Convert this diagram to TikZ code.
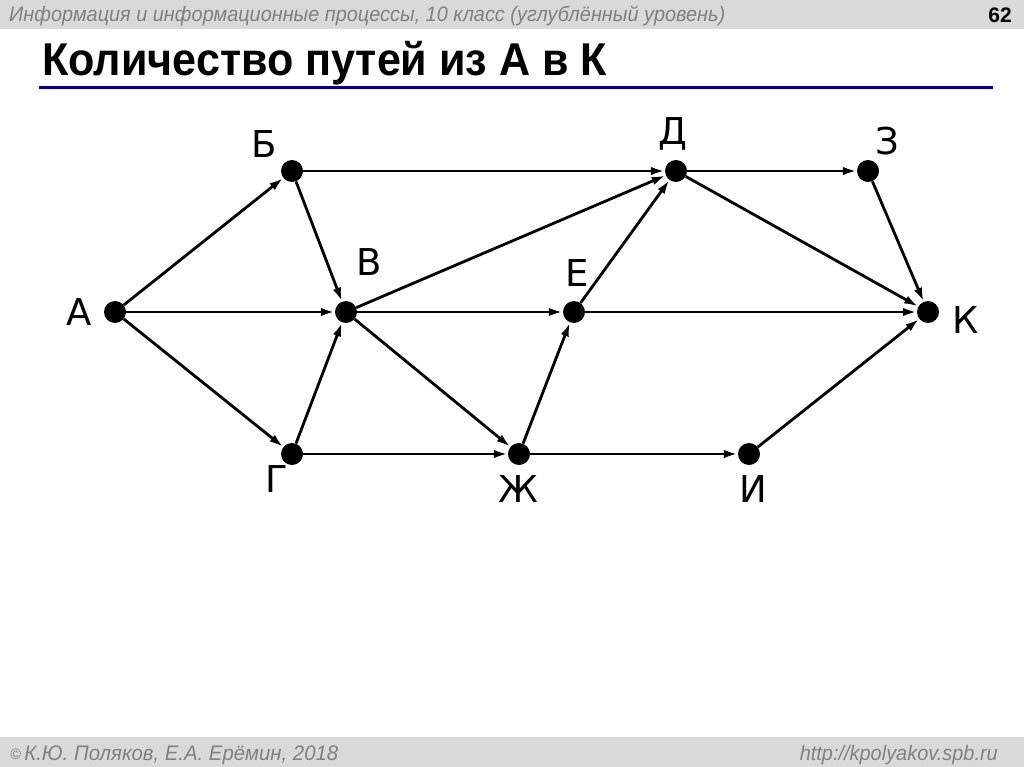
\documentclass[tikz,border=0pt]{standalone}
\usepackage{fontspec}
\usepackage{graphicx}
\setmainfont{Liberation Sans}
\newfontfamily\lblfont{DejaVu Sans}
\usetikzlibrary{arrows.meta}
\definecolor{hdrgray}{RGB}{217,217,217}
\definecolor{hdrtext}{RGB}{128,128,128}
\definecolor{navyline}{RGB}{0,0,128}
\begin{document}
\begin{tikzpicture}[x=1pt,y=-1pt,
  dot/.style={circle,fill=black,minimum size=22pt,inner sep=0pt},
  lbl/.style={font=\lblfont\fontsize{37}{42}\selectfont,inner sep=0pt,anchor=base},
  edge/.style={line width=2.8pt,-{Latex[length=14pt,width=8.5pt]}},
  grayt/.style={font=\itshape\fontsize{21}{25}\selectfont,text=hdrtext,inner sep=0pt,anchor=base west}
]
\useasboundingbox (0,0) rectangle (1024,767);
\fill[white] (0,0) rectangle (1024,767);
\fill[hdrgray] (0,0) rectangle (1024,29.5);
\fill[hdrgray] (0,737) rectangle (1024,767);
\node[grayt] (hdr) at (9,22) {\resizebox{716pt}{\height}{Информация и информационные процессы, 10 класс (углублённый уровень)}};
\node[font=\bfseries\fontsize{21}{25}\selectfont,inner sep=0pt,anchor=base east] (pg) at (1012,23) {62};
\node[font=\bfseries\fontsize{46}{50}\selectfont,inner sep=0pt,anchor=base west] (title) at (42,75.5) {\resizebox{565pt}{\height}{Количество путей из А в К}};
\draw[navyline,line width=3.5pt] (39,87.5) -- (993,87.5);
\node[grayt] (foot) at (10,760) {\resizebox{328pt}{\height}{{\fontsize{15}{18}\selectfont\raisebox{1pt}{©}}\,К.Ю. Поляков, Е.А. Ерёмин, 2018}};
\node[grayt,anchor=base east] (url) at (998,760) {\resizebox{198pt}{\height}{http://kpolyakov.spb.ru}};

\node[dot] (A) at (115,312) {};
\node[dot] (B) at (292,171) {};
\node[dot] (V) at (346,312) {};
\node[dot] (G) at (292,454) {};
\node[dot] (D) at (676,171) {};
\node[dot] (E) at (574,312) {};
\node[dot] (Zh) at (519,454) {};
\node[dot] (Z) at (868,171) {};
\node[dot] (I) at (749,454) {};
\node[dot] (K) at (928,312) {};

\node[lbl] (lA) at (79,325) {А};
\node[lbl] (lB) at (264,158) {Б};
\node[lbl] (lV) at (369,275) {В};
\node[lbl] (lG) at (277,492) {Г};
\node[lbl] (lD) at (673,145) {Д};
\node[lbl] (lE) at (577,286) {Е};
\node[lbl] (lZh) at (518,502) {Ж};
\node[lbl] (lZ) at (887,155) {З};
\node[lbl] (lI) at (753,502) {И};
\node[lbl] (lK) at (966,333) {К};

\draw[edge] (A) -- (B);
\draw[edge] (A) -- (V);
\draw[edge] (A) -- (G);
\draw[edge] (B) -- (V);
\draw[edge] (B) -- (D);
\draw[edge] (V) -- (D);
\draw[edge] (V) -- (E);
\draw[edge] (V) -- (Zh);
\draw[edge] (G) -- (V);
\draw[edge] (G) -- (Zh);
\draw[edge] (Zh) -- (E);
\draw[edge] (Zh) -- (I);
\draw[edge] (E) -- (D);
\draw[edge] (E) -- (K);
\draw[edge] (D) -- (Z);
\draw[edge] (D) -- (K);
\draw[edge] (Z) -- (K);
\draw[edge] (I) -- (K);
\end{tikzpicture}
\end{document}
